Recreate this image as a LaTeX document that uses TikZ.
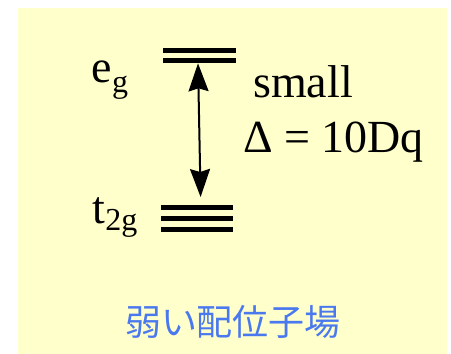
\documentclass[tikz,border=0pt]{standalone}
\usepackage{fontspec}
\setmainfont{Liberation Serif}
\newfontfamily\cjk{Noto Sans CJK JP}
\usetikzlibrary{arrows.meta}
\definecolor{bgyellow}{HTML}{FFFFCC}
\definecolor{jpblue}{HTML}{4A78EE}
\begin{document}
\begin{tikzpicture}[x=1pt,y=-1pt,
  level/.style={line width=5pt},
  lbl/.style={anchor=base west,inner sep=0pt,font=\fontsize{46}{50}\selectfont},
  sub/.style={anchor=base west,inner sep=0pt,font=\fontsize{32}{36}\selectfont},
  gap/.style={line width=2pt,{Stealth[length=28pt,width=20pt,inset=3pt]}-{Stealth[length=28pt,width=20pt,inset=3pt]}}]
\useasboundingbox (0,0) rectangle (451,354);
\fill[bgyellow] (18,8) rectangle (447,354);
% e_g levels
\draw[level] (163,50.2) -- (236,50.2);
\draw[level] (163,60.8) -- (236,60.8);
% t_2g levels
\draw[level] (161,207) -- (233,207);
\draw[level] (161,218.3) -- (233,218.3);
\draw[level] (161,229) -- (233,229);
\coordinate (egb) at (198,63.3);
\coordinate (t2t) at (200.6,197);
\draw[gap] (egb) -- (t2t);
\node[lbl] (eg) at (91,82) {e};
\node[sub] (egsub) at (eg.base east) [anchor=base west,yshift=-10pt] {g};
\node[lbl] (t) at (92,223) {t};
\node[sub] (tsub) at (t.base east) [anchor=base west,yshift=-7pt] {2g};
\node[lbl] (small) at (253,97) {small};
\node[lbl] (delta) at (243,152) {Δ = 10Dq};
\node[anchor=base,inner sep=0pt,text=jpblue,font=\cjk\fontsize{36}{40}\selectfont] (weak) at (233,335) {弱い配位子場};
\end{tikzpicture}
\end{document}
